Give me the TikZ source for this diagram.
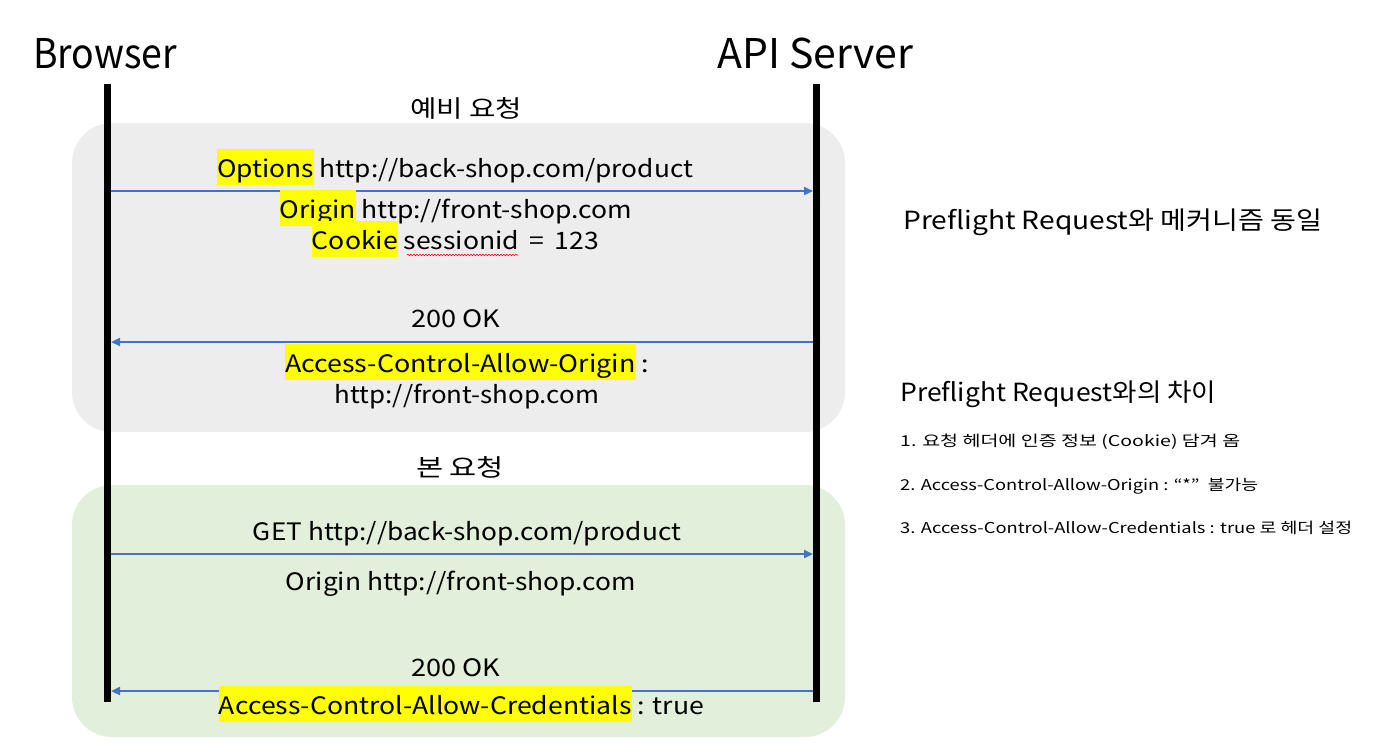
\documentclass[tikz,border=0pt]{standalone}
\usepackage{fontspec}
\usepackage{graphicx}
\setmainfont{Noto Sans CJK KR}
\usetikzlibrary{arrows.meta,decorations.pathmorphing}
\definecolor{arrowblue}{HTML}{4472C4}
\definecolor{grayfill}{HTML}{EDEDED}
\definecolor{greenfill}{HTML}{E2EFDA}
\definecolor{hly}{HTML}{FFFF00}
\newcommand\hlw[1]{{\setlength\fboxsep{0pt}\colorbox{hly}{\rule[-8pt]{0pt}{36pt}#1}}}
\newcommand\fitw[2]{\resizebox{#1pt}{\height}{#2}}
\tikzset{
  msg/.style={anchor=base, inner sep=0pt, font=\fontsize{24pt}{28pt}\selectfont},
  title/.style={anchor=base west, inner sep=0pt, font=\fontsize{41pt}{48pt}\selectfont},
  note/.style={anchor=base west, inner sep=0pt, font=\fontsize{25pt}{30pt}\selectfont},
  item/.style={anchor=base west, inner sep=0pt, font=\fontsize{15pt}{18pt}\selectfont},
  lifeline/.style={line width=7pt},
  arrowmsg/.style={arrowblue, line width=2.2pt, -{Triangle[length=9pt,width=8pt]}},
  phase/.style={rounded corners=40pt},
}
\begin{document}
\begin{tikzpicture}[x=1pt,y=-1pt]
\useasboundingbox (0,0) rectangle (1376,745);
% phase boxes
\fill[grayfill, phase] (72,123) rectangle (845,432);
\fill[greenfill, phase] (72,485) rectangle (845,737);
% titles
\node[title] (browser) at (33,68) {\fitw{144}{Browser}};
\node[title] (server) at (717,68) {\fitw{196}{API Server}};
% lifelines
\coordinate (btop) at (107.5,84);
\coordinate (bbot) at (107.5,702);
\coordinate (stop) at (816.5,84);
\coordinate (sbot) at (816.5,702);
\draw[lifeline] (btop) -- (bbot);
\draw[lifeline] (stop) -- (sbot);
% arrow end points
\coordinate (b1) at (111,191);  \coordinate (s1) at (813,191);
\coordinate (b2) at (111,342);  \coordinate (s2) at (813,342);
\coordinate (b3) at (111,554);  \coordinate (s3) at (813,554);
\coordinate (b4) at (111,691);  \coordinate (s4) at (813,691);
\draw[arrowmsg] (b1) -- (s1);
\draw[arrowmsg] (s2) -- (b2);
\draw[arrowmsg] (b3) -- (s3);
\draw[arrowmsg] (s4) -- (b4);
% preflight texts
\node[msg] (pre) at (466,117) {\fitw{112}{예비 요청}};
\node[msg] (opt) at (455,177) {\fitw{476}{\hlw{Options} http://back-shop.com/product}};
\node[msg] (org1) at (456,218) {\fitw{352}{\hlw{Origin} http://front-shop.com}};
\node[msg] (cook) at (455.5,249) {\fitw{287}{\hlw{Cookie} sessionid \,=\, 123}};
\coordinate (wv1) at (407,255); \coordinate (wv2) at (518,255);
\draw[red, line width=0.6pt, decorate, decoration={snake, amplitude=0.8pt, segment length=3pt}] (wv1) -- (wv2);
\node[msg] (ok1) at (455.5,327) {\fitw{89}{200 OK}};
\node[msg] (acao) at (467,372) {\fitw{364}{\hlw{Access-Control-Allow-Origin} :}};
\node[msg] (acaov) at (467,403) {\fitw{264}{http://front-shop.com}};
% main request texts
\node[msg] (main) at (460,476) {\fitw{88}{본 요청}};
\node[msg] (get) at (467,540) {\fitw{428}{GET http://back-shop.com/product}};
\node[msg] (org2) at (461,590) {\fitw{350}{Origin http://front-shop.com}};
\node[msg] (ok2) at (455.5,676) {\fitw{89}{200 OK}};
\node[msg] (acac) at (461.5,714) {\fitw{485}{\hlw{Access-Control-Allow-Credentials} : true}};
% right notes
\node[note] (same) at (903,229) {\fitw{419}{Preflight Request와 메커니즘 동일}};
\node[note] (diff) at (900,401) {\fitw{316}{Preflight Request와의 차이}};
\node[item] (i1) at (900,446) {\fitw{340}{1. 요청 헤더에 인증 정보 (Cookie) 담겨 옴}};
\node[item] (i2) at (900,490) {\fitw{358}{2. Access-Control-Allow-Origin : “*”\ \ 불가능}};
\node[item] (i3) at (900,533) {\fitw{452}{3. Access-Control-Allow-Credentials : true 로 헤더 설정}};
\end{tikzpicture}
\end{document}
